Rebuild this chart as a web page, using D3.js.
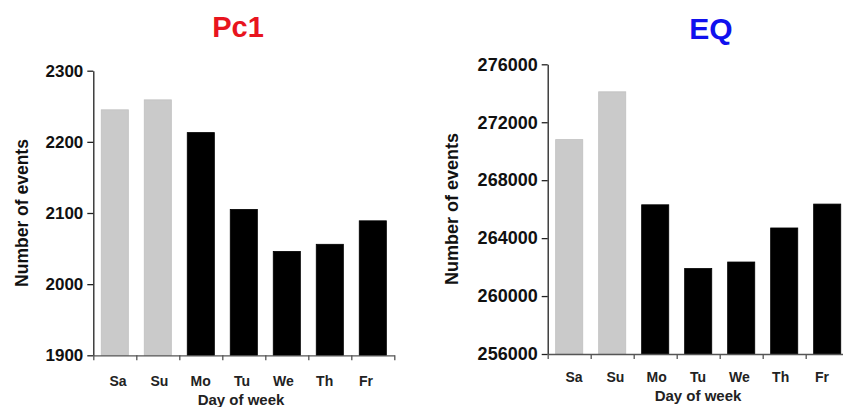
<!DOCTYPE html>
<html><head><meta charset="utf-8">
<script src="https://cdn.jsdelivr.net/npm/d3@7"></script>
<style>
body{margin:0;background:#fff;}
svg{display:block;font-family:"Liberation Sans",Arial,sans-serif;}
</style></head>
<body>
<svg id="c" width="843" height="407"></svg>
<script>
const days = ["Sa","Su","Mo","Tu","We","Th","Fr"];
const weekend = ["Sa","Su"];
const pc1Values = [2245, 2259, 2213, 2105, 2046, 2056, 2089];
const pc1Ticks = [1900, 2000, 2100, 2200, 2300];
const eqValues = [270800, 274100, 266300, 261900, 262350, 264700, 266350];
const eqTicks = [256000, 260000, 264000, 268000, 272000, 276000];

const svg = d3.select("#c");

const panels = [
  {title:"Pc1", color:"#e8141e", values:pc1Values, ticks:pc1Ticks,
   x0:93.3, x1:394.3, yTop:70.7, yBot:355.3, labX:[118, 366], labY:386,
   titleX:238, titleY:37, titleSize:29, tickSize:17,
   yTitleX:28, yTitleY:213, yTitleSize:17.5, xTitleX:241, xTitleY:405, xTitleSize:15},
  {title:"EQ", color:"#1010ee", values:eqValues, ticks:eqTicks,
   x0:547.7, x1:848.7, yTop:64.3, yBot:354, labX:[574, 822], labY:381.7,
   titleX:711, titleY:38.5, titleSize:30, tickSize:18,
   yTitleX:457.5, yTitleY:209, yTitleSize:18, xTitleX:698, xTitleY:400.5, xTitleSize:15}
];

panels.forEach(p => {
  const g = svg.append("g");
  const y = d3.scaleLinear().domain(d3.extent(p.ticks)).range([p.yBot, p.yTop]);
  const xb = d3.scaleBand().domain(days).range([p.x0, p.x1]).paddingInner(0.37).paddingOuter(0.185);
  const xEdge = d3.scaleLinear().domain([0, days.length]).range([p.x0, p.x1]);
  const xl = d3.scalePoint().domain(days).range(p.labX);

  // bars
  g.selectAll("rect.bar").data(days).join("rect")
    .attr("x", d => xb(d))
    .attr("width", xb.bandwidth())
    .attr("y", (d,i) => y(p.values[i]))
    .attr("height", (d,i) => p.yBot - y(p.values[i]))
    .attr("fill", d => weekend.includes(d) ? "#cacaca" : "#000")
    .attr("stroke", d => weekend.includes(d) ? "#c0c0c0" : "#000")
    .attr("stroke-width", 0.8);

  // y axis
  const ya = g.append("g").attr("transform", `translate(${p.x0},0)`)
    .call(d3.axisLeft(y).tickValues(p.ticks).tickFormat(d3.format("d")).tickSize(6).tickSizeOuter(0).tickPadding(4));
  ya.selectAll("text").attr("font-size", p.tickSize).attr("font-weight", "bold").attr("fill", "#111")
    .attr("font-family", '"Liberation Sans",Arial,sans-serif');
  ya.selectAll("line,path").attr("stroke", "#222").attr("stroke-width", 1.3);

  // x axis
  const xa = g.append("g").attr("transform", `translate(0,${p.yBot})`)
    .call(d3.axisBottom(xEdge).tickValues(d3.range(days.length + 1)).tickFormat("").tickSize(5).tickSizeOuter(0));
  xa.selectAll("line,path").attr("stroke", "#555").attr("stroke-width", 1.3);

  // category labels
  g.selectAll("text.cat").data(days).join("text")
    .attr("x", d => xl(d)).attr("y", p.labY)
    .attr("text-anchor", "middle").attr("font-size", 14).attr("font-weight", "bold").attr("fill", "#222")
    .text(d => d);

  // title
  g.append("text").attr("x", p.titleX).attr("y", p.titleY).attr("text-anchor", "middle")
    .attr("font-size", p.titleSize).attr("font-weight", "bold").attr("fill", p.color).text(p.title);

  // axis titles
  g.append("text").attr("transform", `translate(${p.yTitleX},${p.yTitleY}) rotate(-90)`)
    .attr("text-anchor", "middle").attr("font-size", p.yTitleSize).attr("font-weight", "bold").attr("fill", "#111")
    .text("Number of events");
  g.append("text").attr("x", p.xTitleX).attr("y", p.xTitleY).attr("text-anchor", "middle")
    .attr("font-size", p.xTitleSize).attr("font-weight", "bold").attr("fill", "#222").text("Day of week");
});
</script>
</body></html>
